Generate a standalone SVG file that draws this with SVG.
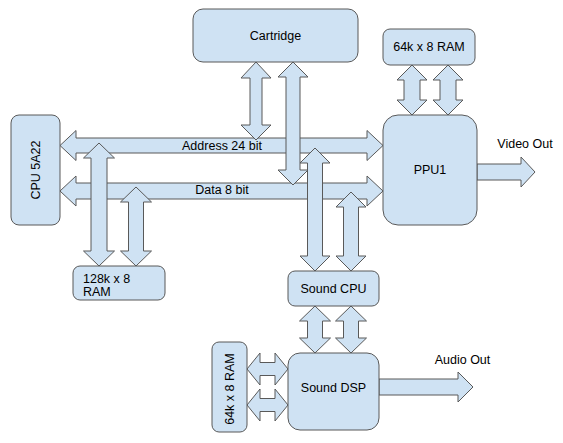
<svg xmlns="http://www.w3.org/2000/svg" width="563" height="443" viewBox="0 0 563 443">
<style>
.box{fill:#cfe2f3;stroke:#595959;stroke-width:1}
.arr{fill:#cfe2f3;stroke:#595959;stroke-width:1;stroke-linejoin:miter}
text{font-family:"Liberation Sans",Arial,sans-serif;font-size:12.5px;fill:#000}
.c{text-anchor:middle;dominant-baseline:central}
</style>
<rect width="563" height="443" fill="#fff"/>
<g id="connectors">
<polygon id="address-bus" class="arr" points="60,145.5 76,130.5 76,138 367,138 367,130.5 383,145.5 367,160.5 367,153 76,153 76,160.5"/>
<polygon id="data-bus" class="arr" points="60,191 76,176 76,183 367,183 367,176 383,191 367,206 367,199 76,199 76,206"/>
<polygon id="cart-addr" class="arr" points="256,62 271,78 262,78 262,125 271,125 256,140 241,125 250,125 250,78 241,78"/>
<polygon id="cart-data" class="arr" points="293,62 308,77 300,77 300,170 308,170 293,185 278,170 286,170 286,77 278,77"/>
<polygon id="ram-addr" class="arr" points="99,143 114.5,158 107,158 107,251 114.5,251 99,266 83.5,251 91,251 91,158 83.5,158"/>
<polygon id="ram-data" class="arr" points="136,187 151.5,202 143.5,202 143.5,251 151.5,251 136,266 120.5,251 128.5,251 128.5,202 120.5,202"/>
<polygon id="scpu-addr" class="arr" points="315,148 330,163 322.5,163 322.5,256 330,256 315,271 300,256 307.5,256 307.5,163 300,163"/>
<polygon id="scpu-data" class="arr" points="351,192 366,207 358.5,207 358.5,256 366,256 351,271 336,256 343.5,256 343.5,207 336,207"/>
<polygon id="ppu-ram1" class="arr" points="412,65 427,80 420,80 420,100 427,100 412,115 397,100 404,100 404,80 397,80"/>
<polygon id="ppu-ram2" class="arr" points="448,65 463,80 456,80 456,100 463,100 448,115 433,100 440,100 440,80 433,80"/>
<polygon id="scpu-dsp1" class="arr" points="315,306 330.5,321 322.5,321 322.5,338 330.5,338 315,353 299.5,338 307.5,338 307.5,321 299.5,321"/>
<polygon id="scpu-dsp2" class="arr" points="351,306 366.5,321 358.5,321 358.5,338 366.5,338 351,353 335.5,338 343.5,338 343.5,321 335.5,321"/>
<polygon id="aram-dsp1" class="arr" points="247,369 260,353 260,362.5 275,362.5 275,353 288,369 275,385 275,375.5 260,375.5 260,385"/>
<polygon id="aram-dsp2" class="arr" points="247,405 260,389 260,398.5 275,398.5 275,389 288,405 275,421 275,411.5 260,411.5 260,421"/>
<polygon id="video-out" class="arr" points="477,164 521,164 521,157 535,172 521,187 521,180 477,180"/>
<polygon id="audio-out" class="arr" points="379,379 458,379 458,372 473,387 458,402 458,395 379,395"/>
<text class="c" x="222" y="146">Address 24 bit</text>
<text class="c" x="222" y="190">Data 8 bit</text>
<text class="c" x="525" y="144">Video Out</text>
<text class="c" x="462.5" y="360">Audio Out</text>
</g>
<g id="cartridge">
<rect class="box" x="193" y="9" width="165" height="53" rx="10"/>
<text class="c" x="275.5" y="36">Cartridge</text>
</g>
<g id="ppu-ram">
<rect class="box" x="383" y="29" width="92" height="36" rx="7"/>
<text class="c" x="429" y="47">64k x 8 RAM</text>
</g>
<g id="ppu1">
<rect class="box" x="383" y="115" width="94" height="110" rx="15"/>
<text class="c" x="430" y="170">PPU1</text>
</g>
<g id="cpu">
<rect class="box" x="11" y="115" width="49" height="110" rx="8"/>
<text class="c" transform="translate(36,170) rotate(-90)" x="0" y="0">CPU 5A22</text>
</g>
<g id="cpu-ram">
<rect class="box" x="73" y="266" width="92" height="34" rx="7"/>
<text x="83" y="283">128k x 8</text>
<text x="83" y="296">RAM</text>
</g>
<g id="sound-cpu">
<rect class="box" x="288" y="271" width="91" height="35" rx="7"/>
<text class="c" x="333.5" y="289">Sound CPU</text>
</g>
<g id="sound-dsp">
<rect class="box" x="288" y="353" width="91" height="77" rx="12"/>
<text class="c" x="333.5" y="388">Sound DSP</text>
</g>
<g id="sound-ram">
<rect class="box" x="212" y="342" width="35" height="90" rx="7"/>
<text class="c" transform="translate(230,389) rotate(-90)" x="0" y="0">64k x 8 RAM</text>
</g>
</svg>
